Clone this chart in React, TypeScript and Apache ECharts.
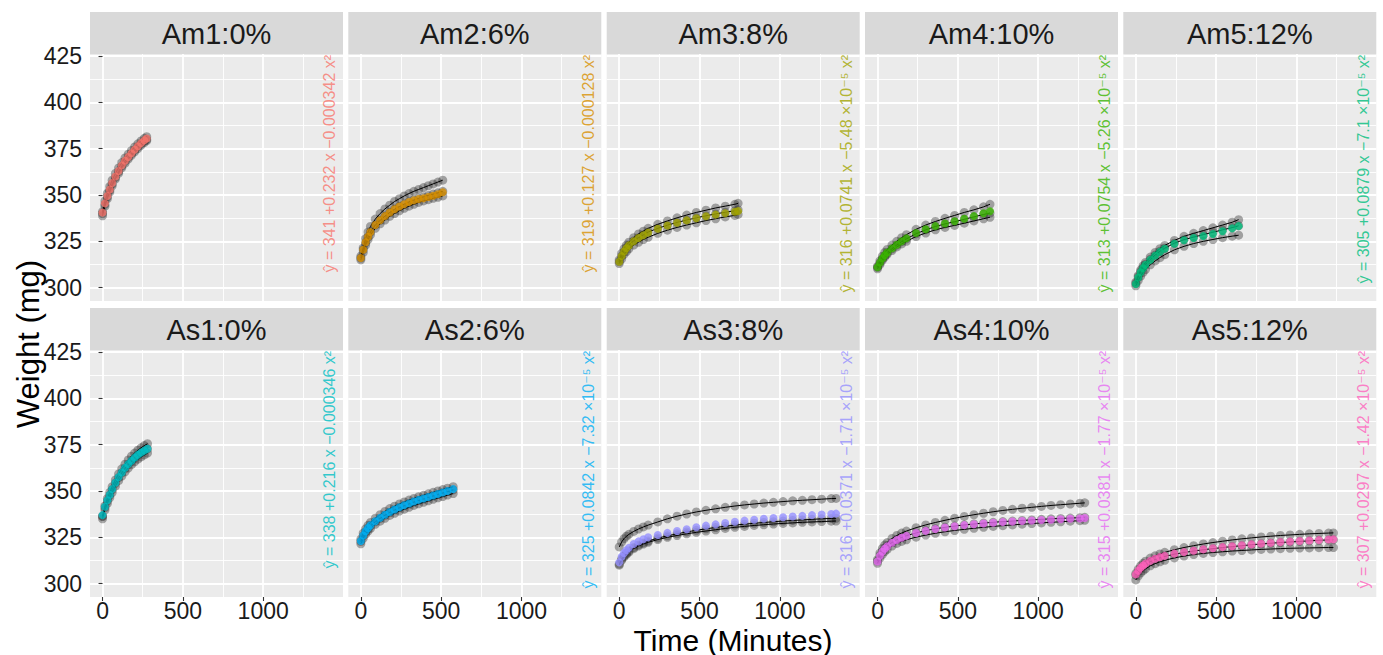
import React, { useEffect, useRef } from "react";
import * as echarts from "echarts";

const FONT = "'Liberation Sans', Arial, 'DejaVu Sans', sans-serif";

const panelNames = ["Am1:0%", "Am2:6%", "Am3:8%", "Am4:10%", "Am5:12%", "As1:0%", "As2:6%", "As3:8%", "As4:10%", "As5:12%"];
const panelColors = ["#F8766D", "#D89000", "#A3A500", "#39B600", "#00BF7D", "#00BFC4", "#00B0F6", "#9590FF", "#E76BF3", "#FF62BC"];
const equations = [
  "ŷ = 341 +0.232 x −0.000342 x²",
  "ŷ = 319 +0.127 x −0.000128 x²",
  "ŷ = 316 +0.0741 x −5.48 ×10⁻⁵ x²",
  "ŷ = 313 +0.0754 x −5.26 ×10⁻⁵ x²",
  "ŷ = 305 +0.0879 x −7.1 ×10⁻⁵ x²",
  "ŷ = 338 +0.216 x −0.000346 x²",
  "ŷ = 325 +0.0842 x −7.32 ×10⁻⁵ x²",
  "ŷ = 316 +0.0371 x −1.71 ×10⁻⁵ x²",
  "ŷ = 315 +0.0381 x −1.77 ×10⁻⁵ x²",
  "ŷ = 307 +0.0297 x −1.42 ×10⁻⁵ x²",
];

const xTicks = [0, 500, 1000];
const xMinorTicks = [250, 750, 1250];
const yTicks = [300, 325, 350, 375, 400, 425];
const yMinorTicks = [312.5, 337.5, 362.5, 387.5, 412.5];

// ---- Am1 ----
const am1Time = [0, 15, 30, 45, 60, 80, 100, 120, 140, 160, 180, 200, 220, 240, 260, 275];
const am1Mean = [340.5, 345.5, 349.5, 353, 356.5, 360, 363, 366, 368.5, 370.5, 372.5, 374.5, 376.3, 378, 379.5, 380.5];
const am1Rep1 = [341, 346.8, 351, 354.6, 358, 361.6, 364.6, 367.5, 370, 372, 374, 375.9, 377.6, 379.2, 380.6, 381.5];
const am1Rep2 = [340, 345, 349, 352.6, 356, 359.5, 362.6, 365.6, 368.2, 370.3, 372.3, 374.2, 376, 377.6, 379.1, 380];
const am1Rep3 = [338.8, 344, 348, 351.6, 355, 358.6, 361.7, 364.7, 367.2, 369.4, 371.4, 373.3, 375.1, 376.8, 378.3, 379.3];

// ---- Am2 ----
const am2Time = [0, 15, 30, 45, 60, 90, 120, 150, 180, 210, 240, 270, 300, 330, 360, 390, 420, 450, 480, 510];
const am2Mean = [316, 320.5, 324.5, 327.5, 330, 333.8, 336.4, 338.6, 340.6, 342.3, 343.8, 345, 346.2, 347.1, 347.8, 348.2, 348.9, 349.6, 350.4, 351.5];
const am2Rep1 = [317, 321.5, 326.5, 330, 333, 337, 340, 342.5, 344.5, 346.5, 348, 349.5, 350.8, 352, 353, 354, 355, 356, 357, 358];
const am2Rep2 = [316, 320.5, 324.3, 327.3, 330, 333.8, 336.3, 338.6, 340.6, 342.3, 343.8, 345.1, 346.3, 347.3, 348.2, 349, 349.8, 350.5, 351.2, 352];
const am2Rep3 = [315, 319, 323, 326, 328.5, 332, 334.5, 336.5, 338.5, 340, 341.5, 342.8, 344, 345, 346, 346.8, 347.5, 348.2, 348.8, 349.5];

// ---- Am3 ----
const am3Time = [0, 15, 30, 45, 60, 90, 120, 150, 180, 240, 300, 360, 420, 480, 540, 600, 660, 720, 740];
const am3Mean = [314, 317, 319.5, 321.3, 322.8, 325, 326.8, 328.3, 329.7, 331.8, 333.5, 335, 336.3, 337.5, 338.5, 339.4, 340.2, 341, 341.3];
const am3Rep1 = [315, 318.5, 321, 323, 324.5, 327, 329, 330.5, 332, 334.2, 336, 337.7, 339.2, 340.6, 341.8, 343, 344, 345, 345.5];
const am3Rep2 = [314, 317, 319.5, 321.5, 323, 325.3, 327, 328.5, 330, 332, 333.7, 335.2, 336.5, 337.7, 338.8, 339.8, 340.7, 341.5, 342];
const am3Rep3 = [313, 315.5, 318, 319.5, 321, 323, 324.5, 326, 327.2, 329.3, 331, 332.5, 333.8, 335, 336.2, 337.2, 338.2, 339, 339.5];

// ---- Am4 ----
const am4Time = [0, 15, 30, 45, 60, 90, 120, 150, 180, 240, 300, 360, 420, 480, 540, 600, 660, 700];
const am4Mean = [311, 313.5, 315.8, 317.5, 319, 321.2, 323.2, 325, 326.6, 329.5, 331.5, 333.2, 334.6, 335.8, 337.2, 338.6, 340.2, 341.2];
const am4Rep1 = [311.5, 314.5, 317, 319, 320.6, 323, 325, 327, 328.6, 331.5, 333.8, 335.7, 337.4, 339, 340.6, 342, 343.6, 345];
const am4Rep2 = [311, 313.3, 315.5, 317.2, 318.7, 321, 323, 324.8, 326.3, 329.1, 331.2, 333, 334.4, 335.6, 336.9, 338.2, 339.5, 340.3];
const am4Rep3 = [310.2, 312.5, 314.8, 316.5, 318, 320, 322, 323.6, 325, 327.6, 329.5, 331.2, 332.5, 333.6, 334.8, 336, 337.2, 338];

// ---- Am5 ----
const am5Time = [0, 15, 30, 45, 60, 90, 120, 150, 180, 240, 300, 360, 420, 480, 540, 600, 640];
const am5Mean = [302, 305.5, 308.3, 310.5, 312.3, 315, 317.3, 319.3, 321, 323.7, 325.6, 326.8, 327.8, 329, 330.4, 332, 333.2];
const am5Rep1 = [303, 306.5, 309.5, 311.8, 313.6, 316.5, 319, 321, 322.8, 325.5, 327.7, 329.3, 330.8, 332.3, 333.8, 335.3, 336.7];
const am5Rep2 = [302.3, 305.8, 308.6, 310.8, 312.6, 315.3, 317.6, 319.6, 321.3, 324, 325.9, 327.3, 328.6, 329.9, 331.2, 332.4, 333.4];
const am5Rep3 = [301, 303.8, 306.2, 308.2, 309.8, 312.3, 314.4, 316.2, 317.8, 320.4, 322.3, 323.8, 325, 326, 327, 327.8, 328.3];

// ---- As1 ----
const as1Time = [0, 15, 30, 45, 60, 80, 100, 120, 140, 160, 180, 200, 220, 240, 260, 280];
const as1Mean = [337, 341.5, 345, 348, 351, 354.5, 357.5, 360, 362.5, 364.5, 366.3, 368, 369.5, 370.7, 371.8, 372.8];
const as1Rep1 = [336.5, 342, 346, 349.3, 352.3, 356, 359.2, 362, 364.5, 366.8, 368.8, 370.5, 372, 373.3, 374.5, 375.5];
const as1Rep2 = [336.2, 341, 344.6, 347.7, 350.7, 354.2, 357.2, 359.8, 362.2, 364.3, 366.1, 367.8, 369.3, 370.6, 371.7, 372.7];
const as1Rep3 = [335, 339.8, 343.3, 346.3, 349.2, 352.6, 355.6, 358.1, 360.4, 362.4, 364.2, 365.8, 367.2, 368.4, 369.5, 370.5];

// ---- As2 ----
const as2Time = [0, 15, 30, 45, 60, 90, 120, 150, 180, 210, 240, 270, 300, 330, 360, 390, 420, 450, 480, 510, 540, 575];
const as2Mean = [323, 326, 328.3, 330, 331.5, 333.7, 335.5, 337.2, 338.7, 340, 341.2, 342.3, 343.3, 344.3, 345.2, 346, 346.8, 347.6, 348.4, 349.2, 350, 351];
const as2Rep1 = [324, 327.3, 329.6, 331.5, 333, 335.3, 337.2, 339, 340.5, 341.8, 343, 344.1, 345.1, 346, 346.9, 347.7, 348.5, 349.3, 350, 350.8, 351.5, 352.3];
const as2Rep2 = [322.8, 325.8, 328, 329.7, 331.2, 333.4, 335.2, 336.9, 338.4, 339.7, 340.9, 342, 343, 344, 344.9, 345.7, 346.5, 347.3, 348.1, 348.9, 349.7, 350.6];
const as2Rep3 = [321.5, 324.5, 326.8, 328.4, 329.8, 332, 333.7, 335.3, 336.8, 338, 339.2, 340.2, 341.2, 342.2, 343.1, 343.9, 344.7, 345.5, 346.3, 347, 347.8, 348.6];

// ---- As3 ----
const as3Time = [0, 15, 30, 45, 60, 90, 120, 150, 180, 240, 300, 360, 420, 480, 540, 600, 660, 720, 780, 840, 900, 960, 1020, 1080, 1140, 1200, 1260, 1320, 1350];
const as3Mean = [311.5, 314.5, 316.5, 318, 319.3, 321.4, 322.8, 324, 325, 326.3, 327.4, 328.4, 329.4, 330.4, 331.3, 332, 332.7, 333.4, 334, 334.5, 335, 335.4, 335.8, 336.2, 336.6, 337, 337.3, 337.6, 337.8];
const as3Rep1 = [319.8, 322.5, 324.3, 325.6, 326.6, 328.2, 329.5, 330.6, 331.6, 333.3, 335, 336.4, 337.6, 338.7, 339.6, 340.4, 341.2, 341.9, 342.5, 343, 343.5, 343.9, 344.3, 344.7, 345, 345.3, 345.6, 345.9, 346];
const as3Rep2 = [310.5, 313.2, 315, 316.4, 317.6, 319.5, 320.9, 322, 323, 324.6, 325.8, 326.9, 327.9, 328.8, 329.6, 330.3, 331, 331.6, 332.1, 332.6, 333, 333.4, 333.8, 334.1, 334.4, 334.7, 335, 335.2, 335.3];
const as3Rep3 = [310, 312.6, 314.4, 315.8, 317, 318.9, 320.3, 321.4, 322.3, 323.8, 325, 326, 326.9, 327.7, 328.4, 329.1, 329.8, 330.4, 330.9, 331.4, 331.8, 332.2, 332.5, 332.8, 333.1, 333.3, 333.5, 333.7, 333.8];

// ---- As4 ----
const as4Time = [0, 15, 30, 45, 60, 90, 120, 150, 180, 240, 300, 360, 420, 480, 540, 600, 660, 720, 780, 840, 900, 960, 1020, 1080, 1140, 1200, 1260, 1290];
const as4Mean = [312, 315, 317.2, 318.8, 320.1, 322.1, 323.6, 324.8, 325.8, 327.3, 328.5, 329.5, 330.3, 331, 331.6, 332.1, 332.5, 332.9, 333.2, 333.5, 333.8, 334, 334.3, 334.5, 334.8, 335, 335.2, 335.4];
const as4Rep1 = [313, 316.5, 319, 320.8, 322.2, 324.4, 326, 327.3, 328.4, 330.2, 331.7, 333, 334.2, 335.3, 336.3, 337.2, 338, 338.8, 339.5, 340.1, 340.7, 341.2, 341.7, 342.2, 342.6, 343, 343.4, 343.6];
const as4Rep2 = [312.2, 315.2, 317.4, 319, 320.3, 322.2, 323.7, 324.9, 325.9, 327.4, 328.6, 329.6, 330.4, 331.1, 331.7, 332.2, 332.7, 333.1, 333.5, 333.8, 334.1, 334.4, 334.7, 335, 335.2, 335.4, 335.6, 335.8];
const as4Rep3 = [311, 313.8, 315.8, 317.3, 318.5, 320.3, 321.7, 322.8, 323.7, 325.1, 326.2, 327.2, 328, 328.7, 329.3, 329.9, 330.4, 330.9, 331.3, 331.7, 332.1, 332.4, 332.8, 333.1, 333.4, 333.7, 334, 334.2];

// ---- As5 ----
const as5Time = [0, 15, 30, 45, 60, 90, 120, 150, 180, 240, 300, 360, 420, 480, 540, 600, 660, 720, 780, 840, 900, 960, 1020, 1080, 1140, 1200, 1230];
const as5Mean = [305, 307, 308.6, 309.8, 310.8, 312.3, 313.4, 314.3, 315, 316.2, 317, 317.8, 318.5, 319.1, 319.7, 320.2, 320.7, 321.2, 321.6, 322, 322.4, 322.7, 323, 323.3, 323.5, 323.8, 323.9];
const as5Rep1 = [305.5, 307.8, 309.6, 311, 312.1, 313.8, 315, 316, 316.9, 318.3, 319.5, 320.5, 321.4, 322.2, 322.9, 323.6, 324.2, 324.7, 325.2, 325.6, 326, 326.3, 326.6, 326.9, 327.1, 327.3, 327.4];
const as5Rep2 = [304.6, 306.6, 308.2, 309.4, 310.4, 311.9, 313, 313.9, 314.7, 315.9, 316.8, 317.6, 318.3, 318.9, 319.5, 320, 320.5, 321, 321.4, 321.8, 322.2, 322.5, 322.8, 323.1, 323.4, 323.6, 323.7];
const as5Rep3 = [302, 304.2, 305.8, 307, 308, 309.6, 310.8, 311.8, 312.6, 313.9, 314.9, 315.7, 316.3, 316.8, 317.2, 317.6, 317.9, 318.2, 318.5, 318.7, 318.9, 319.1, 319.2, 319.3, 319.4, 319.5, 319.5];

const panels = [
  { time: am1Time, mean: am1Mean, reps: [am1Rep1, am1Rep2, am1Rep3] },
  { time: am2Time, mean: am2Mean, reps: [am2Rep1, am2Rep2, am2Rep3] },
  { time: am3Time, mean: am3Mean, reps: [am3Rep1, am3Rep2, am3Rep3] },
  { time: am4Time, mean: am4Mean, reps: [am4Rep1, am4Rep2, am4Rep3] },
  { time: am5Time, mean: am5Mean, reps: [am5Rep1, am5Rep2, am5Rep3] },
  { time: as1Time, mean: as1Mean, reps: [as1Rep1, as1Rep2, as1Rep3] },
  { time: as2Time, mean: as2Mean, reps: [as2Rep1, as2Rep2, as2Rep3] },
  { time: as3Time, mean: as3Mean, reps: [as3Rep1, as3Rep2, as3Rep3] },
  { time: as4Time, mean: as4Mean, reps: [as4Rep1, as4Rep2, as4Rep3] },
  { time: as5Time, mean: as5Mean, reps: [as5Rep1, as5Rep2, as5Rep3] },
];

// layout
const LEFTS = [90, 348.3, 606.7, 865, 1123.3];
const TOPS = [54, 350];
const PW = 253;
const PH = 247;
const STRIP_H = 42;
const X_MIN = -78;
const X_MAX = 1497;
const Y_MIN = 292.8;
const Y_MAX = 426.1;
const EQ_X = 1416;
const EQ_Y = 425.6;

function buildOption() {
  const grid: any[] = [];
  const xAxis: any[] = [];
  const yAxis: any[] = [];
  const series: any[] = [];
  const graphic: any[] = [];

  panels.forEach((p, i) => {
    const r = Math.floor(i / 5);
    const c = i % 5;
    const left = LEFTS[c];
    const top = TOPS[r];
    grid.push({
      left, top, width: PW, height: PH,
      show: true, backgroundColor: "#EBEBEB", borderWidth: 0,
      containLabel: false, outerBoundsMode: "none",
    });
    graphic.push({
      type: "rect", left: left, top: top - STRIP_H, silent: true,
      shape: { x: 0, y: 0, width: PW, height: STRIP_H },
      style: { fill: "#D9D9D9" },
    });
    graphic.push({
      type: "text", x: left + PW / 2, y: top - STRIP_H / 2 + 1, silent: true,
      style: { text: panelNames[i], fontSize: 29, fill: "#1A1A1A", align: "center", verticalAlign: "middle", fontFamily: FONT },
    });
  });

  // major axes 0..9
  panels.forEach((p, i) => {
    const r = Math.floor(i / 5);
    const c = i % 5;
    xAxis.push({
      type: "value", gridIndex: i, min: X_MIN, max: X_MAX, position: "bottom",
      axisLine: { show: false },
      axisTick: { show: r === 1, length: 4, lineStyle: { color: "#333333", width: 1.1 }, customValues: xTicks },
      axisLabel: {
        show: r === 1, customValues: xTicks, margin: 2, fontSize: 23, color: "#1A1A1A", fontFamily: FONT,
        formatter: (v: number) => String(v),
      },
      splitLine: { show: true, lineStyle: { color: "#FFFFFF", width: 1.8 } },
    });
    yAxis.push({
      type: "value", gridIndex: i, min: Y_MIN, max: Y_MAX, position: "left",
      axisLine: { show: false },
      axisTick: { show: c === 0, length: 4, lineStyle: { color: "#333333", width: 1.1 }, customValues: yTicks },
      axisLabel: {
        show: c === 0, customValues: yTicks, margin: 8, fontSize: 23, color: "#1A1A1A", fontFamily: FONT,
        formatter: (v: number) => String(v),
      },
      splitLine: { show: true, lineStyle: { color: "#FFFFFF", width: 1.8 } },
    });
  });
  // minor axes 10..19
  panels.forEach((p, i) => {
    xAxis.push({
      type: "value", gridIndex: i, min: X_MIN, max: X_MAX, position: "bottom",
      axisLine: { show: false },
      axisTick: { show: false, customValues: xMinorTicks },
      axisLabel: { show: false, customValues: xMinorTicks },
      splitLine: { show: true, lineStyle: { color: "#FFFFFF", width: 0.9 } },
    });
    yAxis.push({
      type: "value", gridIndex: i, min: Y_MIN, max: Y_MAX, position: "left",
      axisLine: { show: false },
      axisTick: { show: false, customValues: yMinorTicks },
      axisLabel: { show: false, customValues: yMinorTicks },
      splitLine: { show: true, lineStyle: { color: "#FFFFFF", width: 0.9 } },
    });
  });

  panels.forEach((p, i) => {
    const halo: number[][] = [];
    p.reps.forEach((rep) => rep.forEach((v, k) => halo.push([p.time[k], v])));
    series.push({
      type: "scatter", xAxisIndex: i, yAxisIndex: i, data: halo, symbolSize: 9, silent: true, z: 2,
      itemStyle: { color: "rgba(45,45,45,0.5)" },
    });
    p.reps.forEach((rep) => {
      series.push({
        type: "line", xAxisIndex: i, yAxisIndex: i, silent: true, z: 3,
        data: rep.map((v, k) => [p.time[k], v]),
        showSymbol: false, symbol: "none",
        lineStyle: { color: "#000000", width: 1 },
      });
    });
    series.push({
      type: "scatter", xAxisIndex: i, yAxisIndex: i, silent: true, z: 4,
      data: p.mean.map((v, k) => [p.time[k], v]), symbolSize: 8,
      itemStyle: { color: panelColors[i] },
    });
    series.push({
      type: "scatter", xAxisIndex: i, yAxisIndex: i, silent: true, z: 5,
      data: [[EQ_X, EQ_Y]], symbolSize: 1,
      itemStyle: { color: "rgba(0,0,0,0)" },
      label: {
        show: true, formatter: equations[i], position: "inside", rotate: 90,
        align: "right", verticalAlign: "middle",
        color: panelColors[i], fontSize: 16, fontFamily: FONT,
      },
    });
  });

  graphic.push({
    type: "text", x: 733, y: 640, silent: true,
    style: { text: "Time (Minutes)", fontSize: 30, fill: "#000000", align: "center", verticalAlign: "middle", fontFamily: FONT },
  });
  graphic.push({
    type: "text", x: 28, y: 344, rotation: Math.PI / 2, silent: true,
    style: { text: "Weight (mg)", fontSize: 31, fill: "#000000", align: "center", verticalAlign: "middle", fontFamily: FONT },
  });

  return {
    animation: false,
    backgroundColor: "#FFFFFF",
    textStyle: { fontFamily: FONT },
    grid, xAxis, yAxis, series, graphic,
  };
}

export default function App() {
  const ref = useRef<HTMLDivElement>(null);
  useEffect(() => {
    if (!ref.current) return;
    const chart = echarts.init(ref.current, null, { renderer: "svg" });
    chart.setOption(buildOption() as any);
    return () => chart.dispose();
  }, []);
  return <div ref={ref} style={{ position: "fixed", left: 0, top: 0, width: 1383, height: 655 }} />;
}
